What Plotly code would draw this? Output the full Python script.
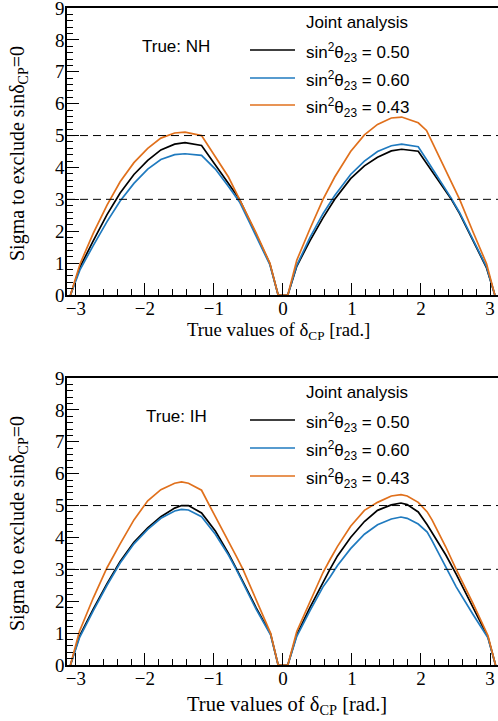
import plotly.graph_objects as go

# ---------------- data ----------------
labels = ["sin<sup>2</sup>θ<sub>23</sub> = 0.50",
          "sin<sup>2</sup>θ<sub>23</sub> = 0.60",
          "sin<sup>2</sup>θ<sub>23</sub> = 0.43"]
colors = ["#000000", "#1f7abf", "#e0701c"]

# True NH
delta_nh = [-3.08, -2.94, -2.75, -2.55, -2.36, -2.16, -1.96, -1.77, -1.57, -1.42,
            -1.18, -0.98, -0.79, -0.63, -0.48, -0.39, -0.19, -0.07, 0.07, 0.20,
            0.39, 0.58, 0.75, 0.98, 1.18, 1.37, 1.57, 1.72, 1.96, 2.08,
            2.16, 2.36, 2.44, 2.56, 2.75, 2.95, 3.07]
nh_050 = [0.0, 0.88, 1.70, 2.52, 3.20, 3.78, 4.22, 4.55, 4.73, 4.78,
          4.69, 4.10, 3.50, 3.00, 2.29, 1.90, 0.98, 0.0, 0.0, 0.90,
          1.70, 2.42, 3.00, 3.65, 4.05, 4.32, 4.52, 4.57, 4.51, 4.13,
          3.88, 3.25, 3.00, 2.55, 1.72, 0.85, 0.0]
nh_060 = [0.0, 0.80, 1.55, 2.30, 2.95, 3.50, 3.95, 4.25, 4.40, 4.43,
          4.38, 3.95, 3.40, 2.92, 2.25, 1.85, 0.95, 0.0, 0.0, 0.93,
          1.80, 2.55, 3.12, 3.78, 4.20, 4.50, 4.68, 4.73, 4.65, 4.25,
          3.98, 3.30, 3.03, 2.58, 1.75, 0.88, 0.0]
nh_043 = [0.0, 0.98, 1.93, 2.82, 3.55, 4.15, 4.60, 4.92, 5.08, 5.11,
          5.00, 4.35, 3.70, 3.00, 2.35, 1.95, 1.00, 0.0, 0.0, 1.09,
          2.07, 3.00, 3.70, 4.50, 5.02, 5.35, 5.55, 5.58, 5.40, 5.16,
          4.80, 3.89, 3.53, 3.00, 2.00, 0.98, 0.0]

# True IH
delta_ih = [-3.08, -2.95, -2.75, -2.55, -2.36, -2.16, -1.96, -1.77, -1.57, -1.47,
            -1.37, -1.18, -0.98, -0.79, -0.67, -0.58, -0.39, -0.18, -0.07, 0.07,
            0.20, 0.39, 0.58, 0.68, 0.79, 0.98, 1.18, 1.37, 1.57, 1.71,
            1.80, 1.96, 2.09, 2.16, 2.36, 2.51, 2.75, 2.97, 3.08]
ih_050 = [0.0, 0.90, 1.75, 2.55, 3.25, 3.85, 4.30, 4.65, 4.92, 5.00,
          5.00, 4.77, 4.20, 3.50, 3.00, 2.60, 1.80, 0.98, 0.0, 0.0,
          0.95, 1.80, 2.60, 3.00, 3.42, 4.00, 4.50, 4.85, 5.02, 5.08,
          5.03, 4.80, 4.40, 4.15, 3.45, 2.85, 1.80, 0.88, 0.0]
ih_060 = [0.0, 0.85, 1.70, 2.50, 3.20, 3.80, 4.25, 4.60, 4.83, 4.88,
          4.86, 4.65, 4.10, 3.45, 2.97, 2.57, 1.75, 0.95, 0.0, 0.0,
          0.90, 1.70, 2.45, 2.75, 3.12, 3.65, 4.10, 4.40, 4.58, 4.64,
          4.60, 4.42, 4.17, 3.90, 3.05, 2.45, 1.60, 0.85, 0.0]
ih_043 = [0.0, 1.05, 2.10, 3.05, 3.80, 4.55, 5.15, 5.50, 5.70, 5.74,
          5.70, 5.48, 4.65, 3.90, 3.38, 3.00, 2.05, 1.00, 0.0, 0.0,
          1.05, 2.00, 2.90, 3.30, 3.72, 4.35, 4.85, 5.10, 5.30, 5.34,
          5.30, 5.10, 4.80, 4.55, 3.70, 3.00, 1.95, 0.92, 0.0]

sigma_levels = [3, 5]
x_ticks = [-3, -2, -1, 0, 1, 2, 3]
hier_labels = ["True: NH", "True: IH"]
legend_header = "Joint analysis"
x_title = "True values of δ<sub>CP</sub> [rad.]"
y_title = "Sigma to exclude sinδ<sub>CP</sub>=0"

# ---------------- layout geometry (pixels) ----------------
W, H = 498, 721
ML, MR, MT, MB = 67, 0, 8, 56
PW = W - ML - MR
PH = H - MT - MB
Y0 = H - MB  # pixel row of paper y=0


def px(xp):
    return (xp - ML) / PW


def py(yp):
    return (Y0 - yp) / PH


SERIF = "Liberation Serif"
SANS = "Liberation Sans"

fig = go.Figure()

panels = [
    dict(x="x", y="y", delta=delta_nh, series=[nh_050, nh_060, nh_043]),
    dict(x="x2", y="y2", delta=delta_ih, series=[ih_050, ih_060, ih_043]),
]
for p in panels:
    for vals, col, lab in zip(p["series"], colors, labels):
        fig.add_trace(go.Scatter(x=p["delta"], y=vals, mode="lines", name=lab,
                                 line=dict(color=col, width=1.7),
                                 xaxis=p["x"], yaxis=p["y"], showlegend=False,
                                 hoverinfo="skip"))


def xax(anchor):
    return dict(anchor=anchor, domain=[0, 1], range=[-3.130, 3.116],
                tickmode="array", tickvals=x_ticks,
                ticks="inside", ticklen=12, tickwidth=1, tickcolor="black",
                showline=True, linewidth=1.6, linecolor="black", mirror=True,
                showgrid=False, zeroline=False, automargin=False,
                ticklabeloverflow="allow", ticklabelstandoff=-5,
                tickfont=dict(family=SERIF, size=19, color="black"),
                minor=dict(dtick=0.2, tick0=0, ticks="inside", ticklen=6,
                           tickwidth=1, tickcolor="black", showgrid=False))


def yax(anchor, dom):
    return dict(anchor=anchor, domain=dom, range=[0, 9], dtick=1, tick0=0,
                ticks="inside", ticklen=12, tickwidth=1, tickcolor="black",
                showline=True, linewidth=1.6, linecolor="black", mirror=False,
                showgrid=False, zeroline=False, automargin=False,
                ticklabeloverflow="allow", ticklabelstandoff=-3,
                tickfont=dict(family=SERIF, size=19, color="black"),
                minor=dict(dtick=0.2, tick0=0, ticks="inside", ticklen=6,
                           tickwidth=1, tickcolor="black", showgrid=False))


top_dom = [py(295), 1]
bot_dom = [0, py(378)]

fig.update_layout(
    width=W, height=H,
    margin=dict(l=ML, r=MR, t=MT, b=MB, pad=0),
    paper_bgcolor="white", plot_bgcolor="white",
    xaxis=xax("y"), yaxis=yax("x", top_dom),
    xaxis2=xax("y2"), yaxis2=yax("x2", bot_dom),
)

shapes = []
annotations = []
for yref in ["y", "y2"]:
    for lvl in sigma_levels:
        shapes.append(dict(type="line", xref="x domain" if yref == "y" else "x2 domain",
                           x0=0, x1=1, yref=yref, y0=lvl, y1=lvl,
                           line=dict(color="black", width=1, dash="8px,5px")))

panel_text = [
    dict(hier_y=46, head_y=22, rows=[50, 78, 105], xt_y=331, yt_y=154, xt_size=18.8, hier_x=140),
    dict(hier_y=416, head_y=392, rows=[420, 448, 476], xt_y=705, yt_y=524, xt_size=20.5, hier_x=144),
]
for hl, pt in zip(hier_labels, panel_text):
    annotations.append(dict(text=hl, x=px(pt["hier_x"]), y=py(pt["hier_y"]), xref="paper", yref="paper",
                            xanchor="left", yanchor="middle", showarrow=False,
                            font=dict(family=SANS, size=17, color="black")))
    annotations.append(dict(text=legend_header, x=px(304), y=py(pt["head_y"]), xref="paper", yref="paper",
                            xanchor="left", yanchor="middle", showarrow=False,
                            font=dict(family=SANS, size=17, color="black")))
    for row, col, lab in zip(pt["rows"], colors, labels):
        shapes.append(dict(type="line", xref="paper", yref="paper",
                           x0=px(250), x1=px(295), y0=py(row), y1=py(row),
                           line=dict(color=col, width=1.7)))
        annotations.append(dict(text=lab, x=px(304), y=py(row + 2), xref="paper", yref="paper",
                                xanchor="left", yanchor="middle", showarrow=False,
                                font=dict(family=SANS, size=17, color="black")))
    annotations.append(dict(text=x_title, x=px(185), y=py(pt["xt_y"]), xref="paper", yref="paper",
                            xanchor="left", yanchor="middle", showarrow=False,
                            font=dict(family=SERIF, size=pt["xt_size"], color="black")))
    annotations.append(dict(text=y_title, x=px(18), y=py(pt["yt_y"]), xref="paper", yref="paper",
                            xanchor="center", yanchor="middle", showarrow=False, textangle=-90,
                            font=dict(family=SERIF, size=20, color="black")))

fig.update_layout(shapes=shapes, annotations=annotations)
fig.write_html("out.html", config={"displayModeBar": False},
               post_script="document.body.style.margin='0px';")
